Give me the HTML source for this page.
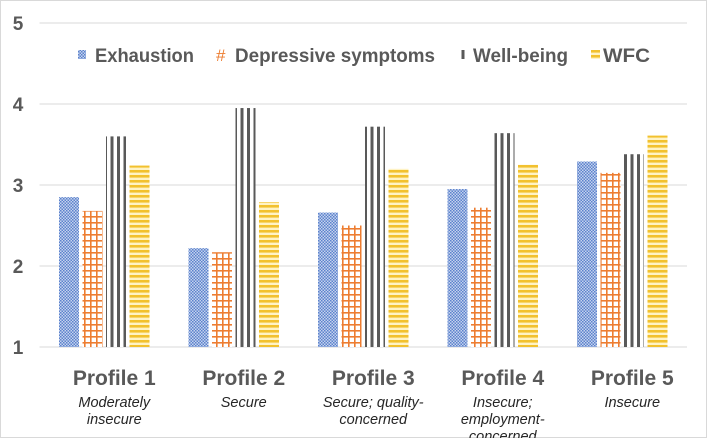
<!DOCTYPE html>
<html><head><meta charset="utf-8"><style>
body{margin:0;background:#fff;}
svg text{font-family:"Liberation Sans",Arial,sans-serif;}
</style></head><body>
<svg id="chart" width="709" height="438" viewBox="0 0 709 438" xmlns="http://www.w3.org/2000/svg">
<defs>
<pattern id="pExh" width="3" height="3" patternUnits="userSpaceOnUse"><rect width="3" height="3" fill="#c5d3ee"/><rect width="1.5" height="1.5" fill="#5b82cc"/><rect x="1.5" y="1.5" width="1.5" height="1.5" fill="#5b82cc"/></pattern>
<pattern id="pDep" width="6" height="6" patternUnits="userSpaceOnUse"><rect width="6" height="6" fill="#fff"/><rect x="0" width="1.6" height="6" fill="#ed7d31"/><rect y="0" width="6" height="1.6" fill="#ed7d31"/></pattern>
<pattern id="pWB" width="6.5" height="6" patternUnits="userSpaceOnUse"><rect width="6.5" height="6" fill="#fff"/><rect width="3" height="6" fill="#595959"/></pattern>
<pattern id="pWFC" width="6" height="5" patternUnits="userSpaceOnUse"><rect width="6" height="5" fill="#fff3c4"/><rect width="6" height="2.6" fill="#f2c12e"/></pattern>
</defs>
<rect x="0.5" y="0.5" width="706" height="437" fill="#fff" stroke="#d9d9d9"/>
<g id="grid"></g>
<g id="bars"></g>
<g id="labels"></g>
<g>
<rect x="78" y="50" width="8" height="9" fill="url(#pExh)"/>
<text x="95" y="62" font-size="19" font-weight="bold" fill="#595959" textLength="99" lengthAdjust="spacingAndGlyphs">Exhaustion</text>
<text x="216" y="61" font-size="17" fill="#ed7d31">#</text>
<text x="235" y="62" font-size="19" font-weight="bold" fill="#595959" textLength="200" lengthAdjust="spacingAndGlyphs">Depressive symptoms</text>
<rect x="460" y="50" width="8" height="9" fill="url(#pWB)"/>
<text x="473" y="62" font-size="19" font-weight="bold" fill="#595959" textLength="95" lengthAdjust="spacingAndGlyphs">Well-being</text>
<rect x="591" y="50" width="9" height="9" fill="url(#pWFC)"/>
<text x="603" y="62" font-size="19" font-weight="bold" fill="#595959" textLength="47" lengthAdjust="spacingAndGlyphs">WFC</text>
</g>
</svg>
<script>
const categories = ["Profile 1","Profile 2","Profile 3","Profile 4","Profile 5"];
const subtitles = [["Moderately","insecure"],["Secure"],["Secure; quality-","concerned"],["Insecure;","employment-","concerned"],["Insecure"]];
const exhaustion = [2.85, 2.22, 2.66, 2.95, 3.29];
const depressive = [2.68, 2.17, 2.50, 2.72, 3.15];
const wellbeing = [3.60, 3.95, 3.72, 3.64, 3.38];
const wfc = [3.24, 2.79, 3.20, 3.25, 3.61];
const yTicks = [1, 2, 3, 4, 5];

const NS = "http://www.w3.org/2000/svg";
const x0 = 39.5, x1 = 687, yTop = 23, yBot = 347, vMin = 1, vMax = 5;
const gw = (x1 - x0) / categories.length;
const y = v => yBot - (v - vMin) / (vMax - vMin) * (yBot - yTop);
const xc = i => x0 + gw * (i + 0.5);
function el(tag, attrs, parent) { const e = document.createElementNS(NS, tag); for (const k in attrs) e.setAttribute(k, attrs[k]); parent.appendChild(e); return e; }
const grid = document.getElementById('grid'), bars = document.getElementById('bars'), labels = document.getElementById('labels');
yTicks.forEach(t => {
  const l = el('line', {x1: x0, x2: x1, y1: y(t), y2: y(t), stroke: '#d9d9d9', 'stroke-width': 1}, grid);
  
  
  const tx = el('text', {x: 18, y: y(t) + 7, 'font-size': 19, 'font-weight': 'bold', fill: '#595959', 'text-anchor': 'middle'}, labels);
  tx.textContent = t;
  
  
});
const series = [[exhaustion, 'url(#pExh)', 'exhaustion'], [depressive, 'url(#pDep)', 'depressive'], [wellbeing, 'url(#pWB)', 'wellbeing'], [wfc, 'url(#pWFC)', 'wfc']];
const bw = 20, step = 23.5;
categories.forEach((c, i) => {
  series.forEach((s, j) => {
    const bx = xc(i) - 2 * step + j * step + (step - bw) / 2;
    const r = el('rect', {x: bx, y: y(s[0][i]), width: bw, height: yBot - y(s[0][i]), fill: s[1]}, bars);
    
    
  });
  const t = el('text', {x: xc(i) + 10, y: 385, 'font-size': 21, 'font-weight': 'bold', fill: '#595959', 'text-anchor': 'middle'}, labels);
  t.textContent = c;
  
  
  subtitles[i].forEach((line, k) => {
    const st = el('text', {x: xc(i) + 10, y: 407 + k * 17, 'font-size': 14.5, 'font-style': 'italic', fill: '#262626', 'text-anchor': 'middle'}, labels);
    st.textContent = line;
    
    
  });
});
</script>
</body></html>
